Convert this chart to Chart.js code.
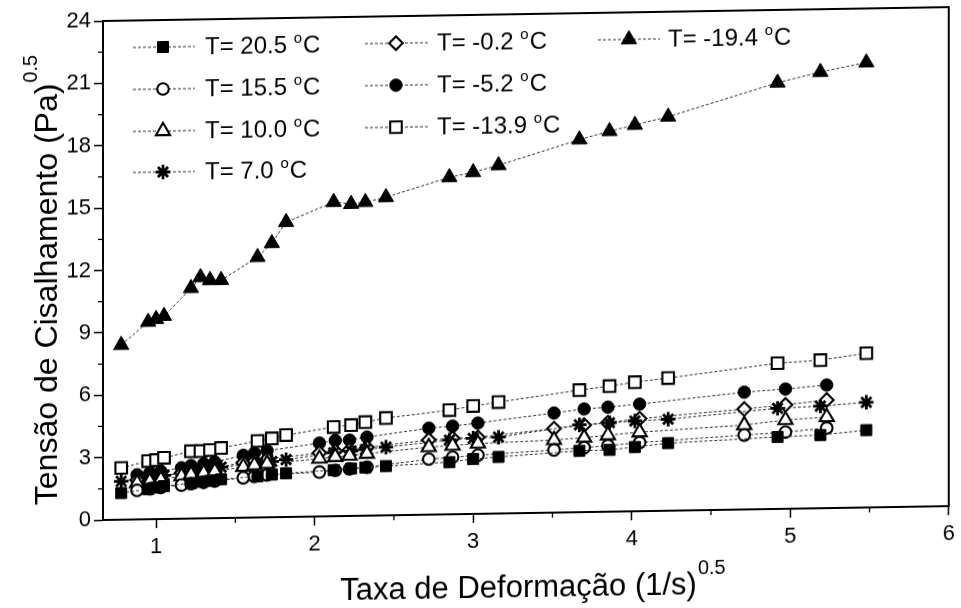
<!DOCTYPE html>
<html>
<head>
<meta charset="utf-8">
<script src="https://cdn.jsdelivr.net/npm/chart.js@4.4.1/dist/chart.umd.min.js"></script>
<style>
html, body { margin: 0; padding: 0; background: #fff; overflow: hidden; width: 961px; height: 608px; }
#wrap { position: absolute; left: 0; top: 0; width: 961px; height: 640px;
        transform: skewY(-0.94deg); transform-origin: 103px 520px; }
canvas { display: block; }
</style>
</head>
<body>
<div id="wrap"><canvas id="chart" width="961" height="640"></canvas></div>
<script>
// Shear-rate grids (1/s)^0.5 used by the two groups of runs
const xGroupA = [0.78, 0.95, 1.00, 1.05, 1.22, 1.28, 1.34, 1.41, 1.64, 1.73, 1.82, 2.12, 2.23, 2.32, 2.45, 2.85, 3.00, 3.16, 3.67, 3.86, 4.02, 4.23, 4.92, 5.19, 5.48];
const xGroupB = [0.88, 0.96, 1.03, 1.16, 1.22, 1.30, 1.37, 1.55, 1.62, 1.70, 2.03, 2.13, 2.22, 2.33, 2.72, 2.87, 3.03, 3.51, 3.70, 3.85, 4.05, 4.71, 4.97, 5.23];

// Shear stress (Pa)^0.5 per temperature
const tau_20_5  = [1.28, 1.45, 1.52, 1.58, 1.70, 1.76, 1.80, 1.86, 1.98, 2.05, 2.10, 2.22, 2.28, 2.32, 2.37, 2.51, 2.64, 2.72, 2.95, 2.97, 3.09, 3.25, 3.46, 3.52, 3.72];
const tau_15_5  = [1.40, 1.46, 1.52, 1.62, 1.68, 1.73, 1.78, 1.92, 1.98, 2.04, 2.13, 2.20, 2.26, 2.33, 2.67, 2.74, 2.82, 3.01, 3.10, 3.18, 3.30, 3.58, 3.69, 3.85];
const tau_10_0  = [1.75, 1.82, 1.90, 2.05, 2.12, 2.18, 2.25, 2.45, 2.52, 2.58, 2.78, 2.85, 2.90, 2.98, 3.25, 3.30, 3.38, 3.49, 3.58, 3.68, 3.80, 4.06, 4.27, 4.38];
const tau_7_0   = [1.85, 2.00, 2.05, 2.10, 2.25, 2.32, 2.38, 2.45, 2.62, 2.68, 2.76, 3.05, 3.12, 3.18, 3.28, 3.57, 3.64, 3.67, 4.20, 4.28, 4.34, 4.40, 4.84, 4.91, 5.06];
const tau_m0_2  = [1.90, 1.97, 2.05, 2.20, 2.28, 2.35, 2.42, 2.65, 2.72, 2.80, 3.05, 3.12, 3.18, 3.28, 3.59, 3.65, 3.68, 4.04, 4.18, 4.28, 4.45, 4.83, 5.00, 5.20];
const tau_m5_2  = [2.15, 2.22, 2.30, 2.45, 2.55, 2.62, 2.70, 3.00, 3.10, 3.20, 3.53, 3.64, 3.65, 3.78, 4.16, 4.24, 4.37, 4.79, 4.96, 5.03, 5.15, 5.64, 5.76, 5.92];
const tau_m13_9 = [2.49, 2.80, 2.84, 2.94, 3.24, 3.24, 3.28, 3.37, 3.68, 3.79, 3.94, 4.29, 4.37, 4.50, 4.68, 5.01, 5.19, 5.36, 5.87, 6.04, 6.21, 6.38, 7.01, 7.12, 7.42];
const tau_m19_4 = [8.40, 9.49, 9.62, 9.76, 11.08, 11.60, 11.45, 11.44, 12.52, 13.18, 14.18, 15.11, 15.00, 15.08, 15.30, 16.21, 16.43, 16.75, 17.92, 18.30, 18.58, 18.95, 20.50, 20.98, 21.40];

const seriesLabels = ['T= 20.5 °C', 'T= 15.5 °C', 'T= 10.0 °C', 'T= 7.0 °C', 'T= -0.2 °C', 'T= -5.2 °C', 'T= -13.9 °C', 'T= -19.4 °C'];

// Tick labels
const xTickValues = [1, 2, 3, 4, 5, 6];
const yTickValues = [0, 3, 6, 9, 12, 15, 18, 21, 24];
const xMinorTicks = [1.5, 2.5, 3.5, 4.5, 5.5];
const yMinorTicks = [1.5, 4.5, 7.5, 10.5, 13.5, 16.5, 19.5, 22.5];

const FONT = "'Liberation Sans', Arial, Helvetica, sans-serif";

const markerStyles = [
  { style: 'rect',     r: 7.8, fill: '#000', bw: 1 },
  { style: 'circle',   r: 5.8, fill: '#fff', bw: 2.1 },
  { style: 'triangle', r: 8.2, fill: '#fff', bw: 2.1 },
  { style: 'star',     r: 7.2, fill: '#000', bw: 2.8 },
  { style: 'rectRot',  r: 6.8, fill: '#fff', bw: 2.1 },
  { style: 'circle',   r: 6.2, fill: '#000', bw: 1 },
  { style: 'rect',     r: 8.2, fill: '#fff', bw: 2.1 },
  { style: 'triangle', r: 8.8, fill: '#000', bw: 1 }
];
const seriesX = [xGroupA, xGroupB, xGroupB, xGroupA, xGroupB, xGroupB, xGroupA, xGroupA];
const seriesY = [tau_20_5, tau_15_5, tau_10_0, tau_7_0, tau_m0_2, tau_m5_2, tau_m13_9, tau_m19_4];

const datasets = seriesLabels.map((label, i) => {
  const m = markerStyles[i];
  return {
    label,
    data: seriesY[i].map((v, k) => ({ x: seriesX[i][k], y: v })),
    showLine: true,
    borderColor: '#333',
    borderWidth: 1,
    borderDash: [3, 2],
    pointStyle: m.style,
    pointRadius: m.r,
    pointHoverRadius: m.r,
    pointBackgroundColor: m.fill,
    pointBorderColor: '#000',
    pointBorderWidth: m.bw
  };
});

// Legend layout: [column, row] for each series
const legendSlots = [[0, 0], [0, 1], [0, 2], [0, 3], [1, 0], [1, 1], [1, 2], [2, 0]];
const legendCols = [
  { a: 133, m: 163, b: 195, t: 205 },
  { a: 365, m: 396, b: 428, t: 437 },
  { a: 598, m: 629, b: 660, t: 668 }
];
const legendRows = [48, 90, 132, 173];

function drawDegreeLabel(ctx, text, x, y) {
  const parts = text.split('°');
  ctx.textBaseline = 'alphabetic';
  ctx.textAlign = 'left';
  ctx.font = '24px ' + FONT;
  ctx.fillText(parts[0], x, y + 8);
  let cx = x + ctx.measureText(parts[0]).width;
  ctx.font = '15px ' + FONT;
  ctx.fillText('o', cx, y - 2);
  cx += ctx.measureText('o').width + 1;
  ctx.font = '24px ' + FONT;
  ctx.fillText(parts[1], cx, y + 8);
}

function drawSupTitle(ctx, main, sup, cx, baseY, mainSize, supSize, rise) {
  ctx.textBaseline = 'alphabetic';
  ctx.textAlign = 'left';
  ctx.font = mainSize + 'px ' + FONT;
  const w = ctx.measureText(main).width;
  ctx.font = supSize + 'px ' + FONT;
  const s = ctx.measureText(sup).width;
  const start = cx - (w + 1 + s) / 2;
  ctx.font = mainSize + 'px ' + FONT;
  ctx.fillText(main, start, baseY);
  ctx.font = supSize + 'px ' + FONT;
  ctx.fillText(sup, start + w + 1, baseY - rise);
}

const decorations = {
  id: 'decorations',
  afterDraw(chart) {
    const ctx = chart.ctx;
    const area = chart.chartArea;
    const xs = chart.scales.x, ys = chart.scales.y;
    ctx.save();
    // plot frame
    ctx.strokeStyle = '#000';
    ctx.lineWidth = 2;
    ctx.setLineDash([]);
    ctx.strokeRect(area.left, area.top, area.right - area.left, area.bottom - area.top);
    // minor ticks
    ctx.lineWidth = 1.3;
    ctx.beginPath();
    xMinorTicks.forEach(v => {
      const p = xs.getPixelForValue(v);
      ctx.moveTo(p, area.bottom); ctx.lineTo(p, area.bottom + 5);
    });
    yMinorTicks.forEach(v => {
      const p = ys.getPixelForValue(v);
      ctx.moveTo(area.left, p); ctx.lineTo(area.left - 5, p);
    });
    ctx.stroke();

    // legend
    chart.data.datasets.forEach((ds, i) => {
      const [c, r] = legendSlots[i];
      const col = legendCols[c];
      const y = legendRows[r];
      ctx.strokeStyle = '#333';
      ctx.lineWidth = 1;
      ctx.setLineDash([3, 2]);
      ctx.beginPath();
      ctx.moveTo(col.a, y); ctx.lineTo(col.b, y);
      ctx.stroke();
      ctx.setLineDash([]);
      ctx.fillStyle = ds.pointBackgroundColor;
      ctx.strokeStyle = '#000';
      ctx.lineWidth = ds.pointBorderWidth;
      Chart.helpers.drawPoint(ctx, {
        pointStyle: ds.pointStyle, radius: ds.pointRadius, rotation: 0, borderWidth: ds.pointBorderWidth
      }, col.m, y);
      ctx.fillStyle = '#000';
      drawDegreeLabel(ctx, ds.label, col.t, y);
    });

    // axis titles
    ctx.fillStyle = '#000';
    drawSupTitle(ctx, 'Taxa de Deformação (1/s)', '0.5', 533, 604, 31, 20, 20);
    ctx.translate(57, 279);
    ctx.rotate(-Math.PI / 2);
    drawSupTitle(ctx, 'Tensão de Cisalhamento (Pa)', '0.5', 0, 0, 32, 20, 20);
    ctx.restore();
  }
};

new Chart(document.getElementById('chart'), {
  type: 'scatter',
  data: { datasets },
  options: {
    responsive: false,
    devicePixelRatio: 1,
    animation: false,
    events: [],
    layout: { padding: { top: 21, right: 8, left: 0, bottom: 0 } },
    plugins: { legend: { display: false }, tooltip: { enabled: false } },
    scales: {
      x: {
        type: 'linear',
        min: 0.665,
        max: 6,
        afterBuildTicks: s => { s.ticks = xTickValues.map(v => ({ value: v })); },
        afterFit: s => { s.height = 120; },
        border: { display: true, color: '#000', width: 2 },
        grid: { drawOnChartArea: false, drawTicks: true, tickLength: 9, tickWidth: 1.5, tickColor: '#000' },
        ticks: { color: '#000', font: { family: FONT, size: 22 }, padding: 6, maxRotation: 0,
                 callback: v => String(v) }
      },
      y: {
        type: 'linear',
        min: 0,
        max: 24,
        afterBuildTicks: s => { s.ticks = yTickValues.map(v => ({ value: v })); },
        afterFit: s => { s.width = 103; },
        border: { display: true, color: '#000', width: 2 },
        grid: { drawOnChartArea: false, drawTicks: true, tickLength: 9, tickWidth: 1.5, tickColor: '#000' },
        ticks: { color: '#000', font: { family: FONT, size: 22 }, padding: 3,
                 callback: v => String(v) }
      }
    }
  },
  plugins: [decorations]
});
</script>
</body>
</html>
